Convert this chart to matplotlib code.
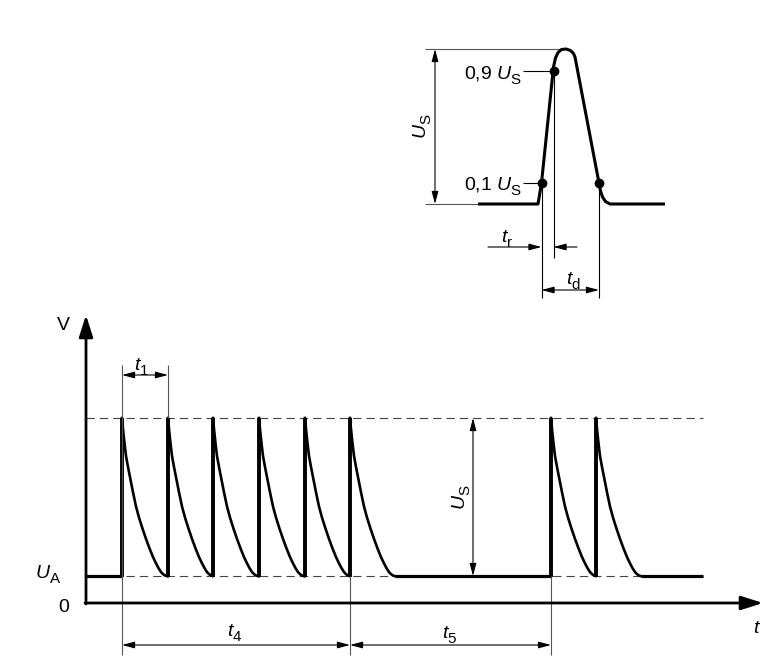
import matplotlib
matplotlib.use('Agg')
import matplotlib.pyplot as plt
try:
    import matplotlib._mathtext as _mt
    _mt.SHRINK_FACTOR = 0.78
    _mt.FontConstantsBase.sub1 = 0.55
    _mt.FontConstantsBase.sub2 = 0.6
except Exception:
    pass

plt.rcParams['font.family'] = ['Liberation Sans', 'DejaVu Sans']
plt.rcParams['mathtext.fontset'] = 'custom'
plt.rcParams['mathtext.rm'] = 'Liberation Sans'
plt.rcParams['mathtext.it'] = 'Liberation Sans:italic'
plt.rcParams['mathtext.bf'] = 'Liberation Sans:bold'

# ---------------- data (diagram units) ----------------
# main pulse train
pulse_starts = [122, 168, 213, 259, 305, 350, 551, 596]
level_0 = 603
level_UA = 576
level_US = 418
decay_dx = [0, 1, 2.5, 4, 6, 8.5, 11, 14, 17, 20.5, 24, 27.5, 31, 34, 36.5, 39, 41, 43, 44.5]
decay_h = [1.0, 0.93, 0.84, 0.76, 0.69, 0.61, 0.53, 0.44, 0.37, 0.30, 0.235, 0.175,
           0.12, 0.08, 0.05, 0.025, 0.012, 0.003, 0.0]
axis_origin_x = 86
train_end = 703
axis_end_x = 763
axis_top_y = 315

# inset single pulse
inset_x = [478, 538, 541.5, 553.5, 555.5, 558, 561.5, 566, 570.5, 573.5, 575, 599, 600.5,
           602.5, 605.5, 610, 665]
inset_y = [204, 204, 183, 67, 58, 52.5, 49.5, 49, 50.5, 53.5, 57, 183, 191, 197, 201.5, 204, 204]
inset_dot_x = [541.5, 553.5, 599]
inset_dot_y = [183, 71, 183]
inset_base = 204
inset_peak = 49

FS = 14
K = 'black'
G = '#555555'

fig = plt.figure(figsize=(7.8, 6.63), dpi=100)
ax = fig.add_axes([0, 0, 1, 1])
ax.set_xlim(0, 780)
ax.set_ylim(663, 0)
ax.axis('off')


def dim(x0, y0, x1, y1, style='<|-|>'):
    ax.annotate('', xy=(x1, y1), xytext=(x0, y0),
                arrowprops=dict(arrowstyle=style + ',head_length=0.75,head_width=0.2',
                                lw=0.8, color=K, shrinkA=0, shrinkB=0,
                                mutation_scale=10))


def thin(xs, ys, c=G, lw=0.8):
    ax.plot(xs, ys, color=c, lw=lw, solid_capstyle='butt')


# ---------------- main diagram ----------------
ax.annotate('', xy=(axis_origin_x, axis_top_y), xytext=(axis_origin_x, level_0 + 1),
            arrowprops=dict(arrowstyle='-|>,head_length=1.1,head_width=0.35',
                            lw=2.0, color=K, shrinkA=0, shrinkB=0, mutation_scale=12))
ax.annotate('', xy=(axis_end_x, level_0), xytext=(axis_origin_x - 1, level_0),
            arrowprops=dict(arrowstyle='-|>,head_length=1.1,head_width=0.35',
                            lw=2.0, color=K, shrinkA=0, shrinkB=0, mutation_scale=12))

for lev in (level_US, level_UA):
    ax.plot([axis_origin_x, train_end], [lev, lev], color='#444444', lw=0.8,
            dashes=(7.5, 4.5))

ax.plot([axis_origin_x, pulse_starts[0]], [level_UA, level_UA], color=K, lw=2.3,
        solid_capstyle='butt')

span = level_UA - level_US
for i, p in enumerate(pulse_starts):
    ax.plot([p, p], [level_UA + 1, level_US], color=K, lw=2.8, solid_capstyle='butt')
    xs = [p + d for d in decay_dx]
    ys = [level_UA - h * span for h in decay_h]
    ax.plot(xs, ys, color=K, lw=1.9, solid_joinstyle='round')
    nxt = pulse_starts[i + 1] if i + 1 < len(pulse_starts) else train_end
    end = p + decay_dx[-1]
    if nxt > end:
        ax.plot([end, nxt], [level_UA, level_UA], color=K, lw=2.3, solid_capstyle='butt')

thin([pulse_starts[0]] * 2, [365, 655])
thin([pulse_starts[1]] * 2, [365, level_US])
thin([pulse_starts[5]] * 2, [level_UA, 655])
thin([pulse_starts[6]] * 2, [level_UA, 655])

dim(pulse_starts[0], 375, pulse_starts[1], 375)
dim(pulse_starts[0], 645, pulse_starts[5], 645)
dim(pulse_starts[5], 645, pulse_starts[6], 645)
dim(473, level_US, 473, level_UA)

ax.text(63, 325, 'V', fontsize=FS, ha='center', va='center')
ax.text(142, 370, r'$t_{1}$', fontsize=FS, ha='center', va='baseline')
ax.text(235, 637, r'$t_{4}$', fontsize=FS, ha='center', va='baseline')
ax.text(450, 638, r'$t_{5}$', fontsize=FS, ha='center', va='baseline')
ax.text(462, 497, r'$U_{\mathrm{S}}$', fontsize=FS, ha='center', va='center', rotation=90)
ax.text(61, 578, r'$U_{\mathrm{A}}$', fontsize=FS, ha='right', va='baseline')
ax.text(64, 612, '0', fontsize=FS, ha='center', va='baseline')
ax.text(757, 633, r'$t$', fontsize=FS, ha='center', va='baseline')

# ---------------- inset ----------------
thin([425, 562], [inset_peak, inset_peak])
thin([425, inset_x[0]], [inset_base, inset_base])
dim(435, inset_peak, 435, inset_base)
ax.plot(inset_x, inset_y, color=K, lw=2.2, solid_joinstyle='round', solid_capstyle='butt')
ax.plot(inset_dot_x, inset_dot_y, 'o', color=K, ms=6)

thin([523, inset_dot_x[1]], [inset_dot_y[1], inset_dot_y[1]], c=K)
thin([523, inset_dot_x[0]], [inset_dot_y[0], inset_dot_y[0]], c=K)
ax.text(522, 79.5, r'0,9 $U_{\mathrm{S}}$', fontsize=FS, ha='right', va='baseline')
ax.text(522, 191, r'0,1 $U_{\mathrm{S}}$', fontsize=FS, ha='right', va='baseline')
ax.text(423, 126, r'$U_{\mathrm{S}}$', fontsize=FS, ha='center', va='center', rotation=90)

thin([inset_dot_x[0]] * 2, [inset_dot_y[0], 298], c=K)
thin([inset_dot_x[1]] * 2, [inset_dot_y[1], 258], c=K)
thin([inset_dot_x[2]] * 2, [inset_dot_y[2], 298], c=K)

dim(488, 247, inset_dot_x[0], 247, style='-|>')
dim(577, 247, inset_dot_x[1], 247, style='-|>')
ax.text(507, 243, r'$t_{\mathrm{r}}$', fontsize=FS, ha='center', va='baseline')
dim(inset_dot_x[0], 290, inset_dot_x[2], 290)
ax.text(573, 284, r'$t_{\mathrm{d}}$', fontsize=FS, ha='center', va='baseline')

fig.savefig('out.png', dpi=100)
